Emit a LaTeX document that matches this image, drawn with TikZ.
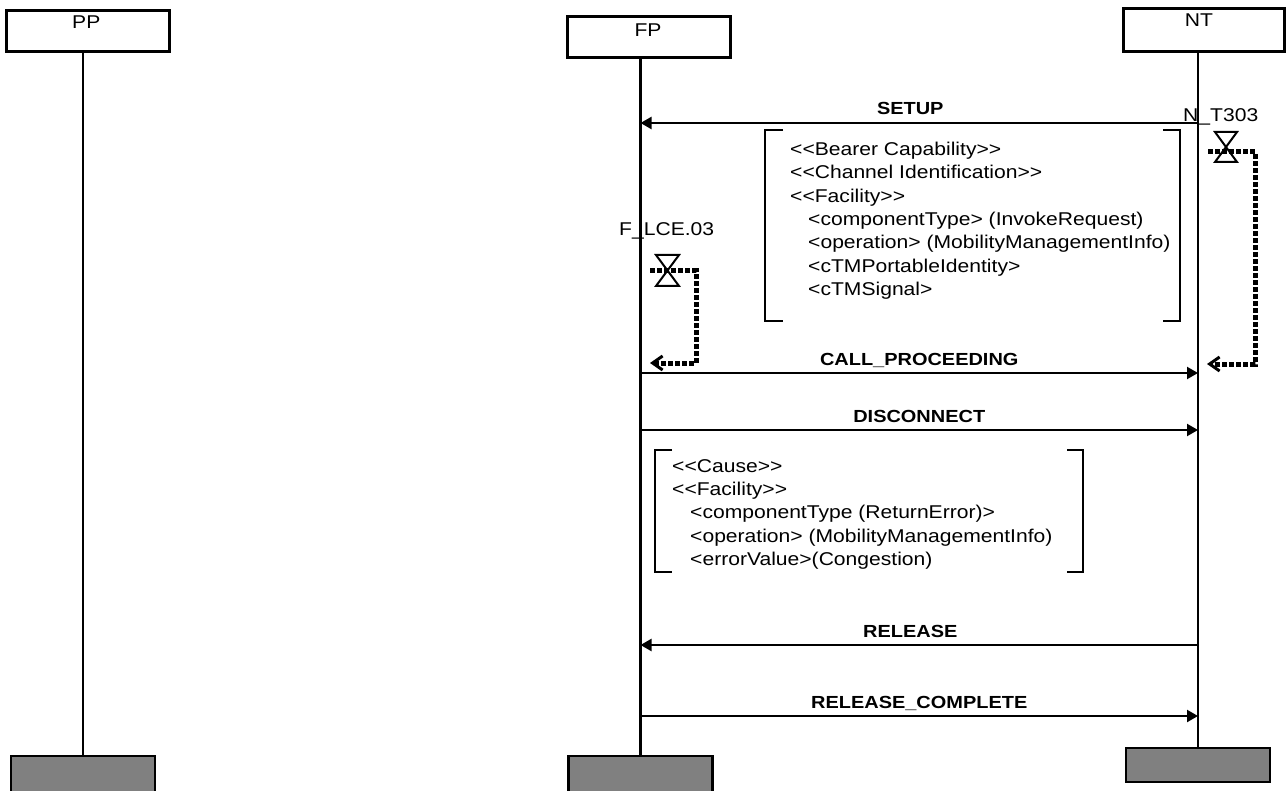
\documentclass[tikz,border=0pt]{standalone}
\usepackage{fontspec}
\newfontfamily\arialff{Liberation Sans}[FakeStretch=1.14]
\usetikzlibrary{arrows.meta,calc}
\newcommand\bodyfnt{\arialff\fontsize{18.5}{23.3}\selectfont}
\newcommand\labelfnt{\arialff\fontsize{17.5}{20}\selectfont\bfseries}
\newcommand\headfnt{\arialff\fontsize{18.5}{22}\selectfont}
\definecolor{boxgray}{HTML}{808080}
\tikzset{
  headbox/.style={draw, line width=3pt, inner sep=0pt},
  endbox/.style={draw, line width=2.3pt, fill=boxgray, inner sep=0pt},
  headtext/.style={font=\headfnt, anchor=base, inner sep=0pt},
  life/.style={line width=2.2pt},
  msg/.style={line width=2.2pt, -{Triangle[length=11pt,width=12pt]}},
  mlabel/.style={font=\labelfnt, anchor=base, yshift=8pt, inner sep=0pt},
  bracketline/.style={line width=2.5pt},
  bodytext/.style={font=\bodyfnt, align=left, anchor=north west, inner sep=0pt},
  timertext/.style={font=\bodyfnt, anchor=base west, inner sep=0pt},
  timerline/.style={line width=5pt, dash pattern=on 5pt off 2pt,
    -{Straight Barb[length=10pt,width=14pt,line width=3pt]}},
  hourglass/.style={line width=2pt, line join=miter}
}
\begin{document}
\begin{tikzpicture}[x=1pt,y=-1pt]
\useasboundingbox (0,0) rectangle (1287,791);

% head boxes
\node[headbox, minimum width=162.6pt, minimum height=41pt] (pp) at (88,31.2) {};
\node[headbox, minimum width=162.3pt, minimum height=41pt] (fp) at (648.9,37.2) {};
\node[headbox, minimum width=161pt, minimum height=42.7pt] (nt) at (1203.7,29.7) {};
\node[headtext] (pplbl) at (86.3,28.3) {PP};
\node[headtext] (fplbl) at (648,36.6) {FP};
\node[headtext] (ntlbl) at (1199,26.7) {NT};

% end boxes
\node[endbox, minimum width=144pt, minimum height=36pt] (ppend) at (83,774) {};
\node[endbox, minimum width=144pt, minimum height=36pt] (fpend) at (640.5,774) {};
\node[endbox, minimum width=144pt, minimum height=34pt] (ntend) at (1198,765) {};

% lifelines
\draw[life] (ppend.north |- pp.south) -- (ppend.north);
\draw[life] (fpend.north |- fp.south) -- (fpend.north);
\draw[life] (ntend.north |- nt.south) -- (ntend.north);

% message rows
\coordinate (r1) at (0,123);
\coordinate (r2) at (0,373);
\coordinate (r3) at (0,430);
\coordinate (r4) at (0,645);
\coordinate (r5) at (0,716);

\draw[msg] (ntend.north |- r1) -- (fpend.north |- r1) node[mlabel, midway, xshift=-9pt] {SETUP};
\draw[msg] (fpend.north |- r2) -- (ntend.north |- r2) node[mlabel, midway] {CALL\_PROCEEDING};
\draw[msg] (fpend.north |- r3) -- (ntend.north |- r3) node[mlabel, midway] {DISCONNECT};
\draw[msg] (ntend.north |- r4) -- (fpend.north |- r4) node[mlabel, midway, xshift=-9pt] {RELEASE};
\draw[msg] (fpend.north |- r5) -- (ntend.north |- r5) node[mlabel, midway] {RELEASE\_COMPLETE};

% SETUP parameter bracket
\draw[bracketline] (783,130) -- (765,130) -- (765,321) -- (783,321);
\draw[bracketline] (1163,130) -- (1180,130) -- (1180,321) -- (1163,321);
\node[bodytext] (setuptext) at (790,142) {%
<<Bearer Capability>>\\
<<Channel Identification>>\\
<<Facility>>\\
\hspace*{18pt}<componentType> (InvokeRequest)\\
\hspace*{18pt}<operation> (MobilityManagementInfo)\\
\hspace*{18pt}<cTMPortableIdentity>\\
\hspace*{18pt}<cTMSignal>};

% DISCONNECT parameter bracket
\draw[bracketline] (672,450) -- (655,450) -- (655,572) -- (672,572);
\draw[bracketline] (1067,450) -- (1083,450) -- (1083,572) -- (1067,572);
\node[bodytext] (disctext) at (672,459) {%
<<Cause>>\\
<<Facility>>\\
\hspace*{18pt}<componentType (ReturnError)>\\
\hspace*{18pt}<operation> (MobilityManagementInfo)\\
\hspace*{18pt}<errorValue>(Congestion)};

% timer N_T303
\node[timertext] (ntt) at (1183,122) {N\_T303};
\coordinate (tnt) at (1226,147);
\coordinate (tnts) at (1208,152);
\coordinate (tnte) at (1207,364);
\draw[timerline] (tnts) -- (1255,152) -- (1255,364) -- (tnte);
\draw[hourglass] ($(tnt)+(-11,-15)$) -- ++(22,0) -- ++(-22,30) -- ++(22,0) -- cycle;

% timer F_LCE.03
\node[timertext] (flt) at (619,236) {F\_LCE.03};
\coordinate (tfl) at (667.5,270.5);
\coordinate (tfls) at (650,271);
\coordinate (tfle) at (650,363);
\draw[timerline] (tfls) -- (696,271) -- (696,363) -- (tfle);
\draw[hourglass] ($(tfl)+(-11.5,-15.5)$) -- ++(23,0) -- ++(-23,31) -- ++(23,0) -- cycle;
\end{tikzpicture}
\end{document}
